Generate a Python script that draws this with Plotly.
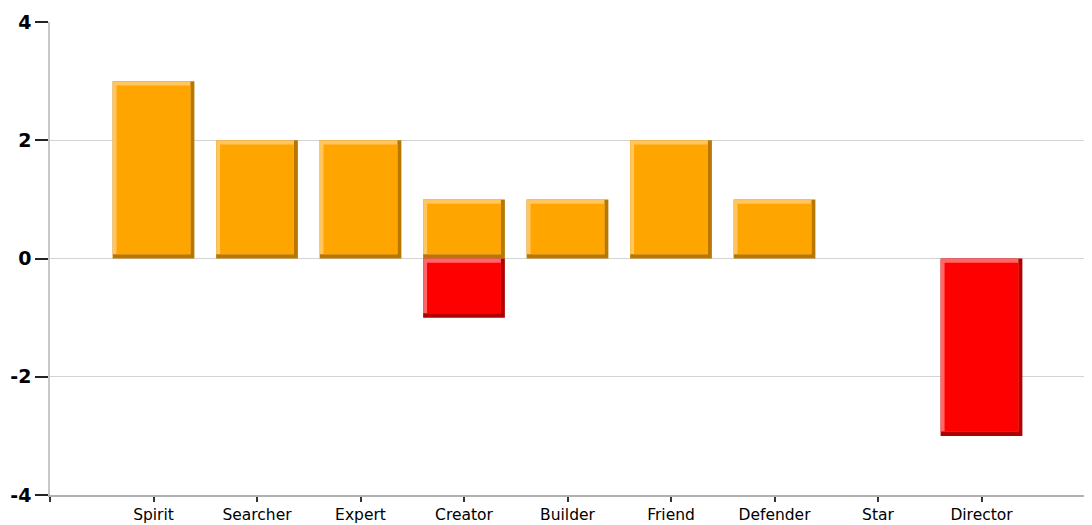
import plotly.graph_objects as go

categories = ["Spirit", "Searcher", "Expert", "Creator", "Builder", "Friend", "Defender", "Star", "Director"]
positive_values = [3, 2, 2, 1, 1, 2, 1, 0, 0]
negative_values = [0, 0, 0, -1, 0, 0, 0, 0, -3]
y_ticks = [-4, -2, 0, 2, 4]
y_tick_labels = ["-4", "-2", "0", "2", "4"]

BAR_W = 0.79
BX = 0.038   # bevel thickness in x data units
BY = 0.072   # bevel thickness in y data units

styles = {
    "pos": {"main": "#FFA500", "light": "#FFC560", "dark": "#B87700"},
    "neg": {"main": "#FF0000", "light": "#FF6666", "dark": "#B00000"},
}

fig = go.Figure()

def add_bevel_bars(values, st):
    xs, bottoms, tops = [], [], []
    for i, v in enumerate(values):
        if v == 0:
            continue
        xs.append(i + 1)
        bottoms.append(min(0, v))
        tops.append(max(0, v))
    n = len(xs)
    fig.add_trace(go.Bar(x=xs, y=[t - b for t, b in zip(tops, bottoms)], base=bottoms,
                         width=[BAR_W] * n, offset=[-BAR_W / 2] * n,
                         marker=dict(color=st["dark"], line=dict(width=0)),
                         hoverinfo="skip", showlegend=False))
    fig.add_trace(go.Bar(x=xs, y=[t - b - BY for t, b in zip(tops, bottoms)],
                         base=[b + BY for b in bottoms],
                         width=[BAR_W - BX] * n, offset=[-BAR_W / 2] * n,
                         marker=dict(color=st["light"], line=dict(width=0)),
                         hoverinfo="skip", showlegend=False))
    fig.add_trace(go.Bar(x=xs, y=[t - b - 2 * BY for t, b in zip(tops, bottoms)],
                         base=[b + BY for b in bottoms],
                         width=[BAR_W - 2 * BX] * n, offset=[-BAR_W / 2 + BX] * n,
                         marker=dict(color=st["main"], line=dict(width=0)),
                         showlegend=False))

add_bevel_bars(positive_values, styles["pos"])
add_bevel_bars(negative_values, styles["neg"])

# the page body adds an 8px offset; compensate so the plot area matches the reference
fig.update_layout(
    width=1084, height=517,
    barmode="overlay",
    plot_bgcolor="white", paper_bgcolor="white",
    margin=dict(l=42, r=7, t=14, b=30, autoexpand=False),
    showlegend=False,
    xaxis=dict(
        range=[0, 10], automargin=False,
        tickmode="array",
        tickvals=list(range(0, len(categories) + 2)),
        ticktext=[""] + categories + [""],
        showgrid=False, zeroline=False,
        showline=True, linecolor="#b0b0b0", linewidth=1.5,
        ticks="outside", ticklen=5, tickcolor="#333333", tickwidth=1.5,
        tickfont=dict(family="DejaVu Sans", size=15.5, color="#000000"),
    ),
    yaxis=dict(
        range=[-4, 4], automargin=False,
        tickmode="array", tickvals=y_ticks, ticktext=y_tick_labels,
        showgrid=True, gridcolor="#d3d3d3", gridwidth=1,
        zeroline=False,
        showline=True, linecolor="#c8c8c8", linewidth=1.5,
        ticks="outside", ticklen=13, tickcolor="#222222", tickwidth=1.5,
        tickfont=dict(family="DejaVu Sans", size=19, color="#000000", weight="bold"),
    ),
)

fig.write_html("out.html")
